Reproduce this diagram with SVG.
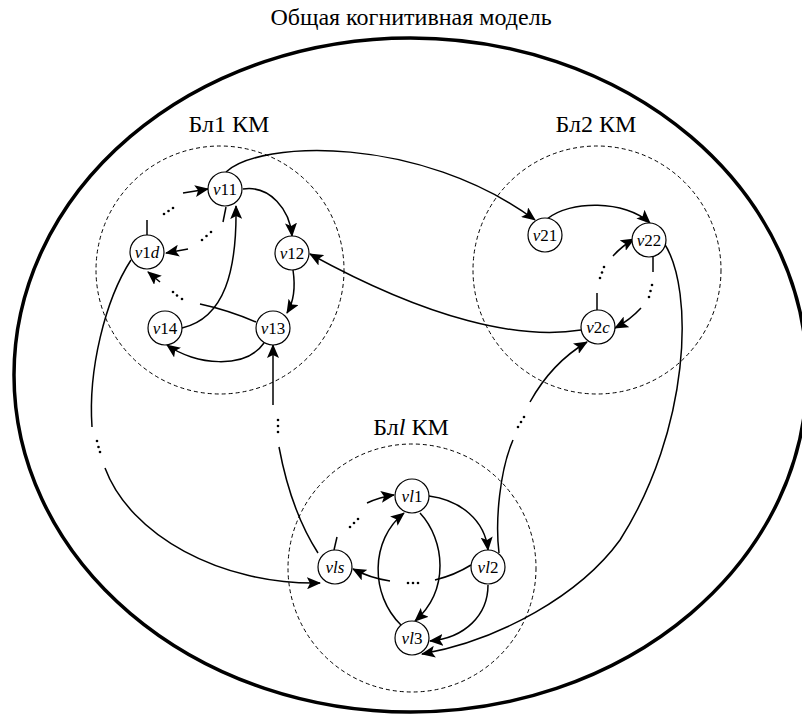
<svg xmlns="http://www.w3.org/2000/svg" width="802" height="715" viewBox="0 0 802 715">
<defs>
<marker id="ah" markerUnits="userSpaceOnUse" markerWidth="14" markerHeight="12" viewBox="0 0 14 12" refX="13" refY="6" orient="auto">
<path d="M0,0 L14,6 L0,12 L3,6 Z" fill="#000"/>
</marker>
</defs>
<style>
text{font-family:"Liberation Serif","Times New Roman",serif;fill:#000}
.t{font-size:24px}
.b{font-size:24px}
.n{font-size:17px}
.node circle{fill:#fff;stroke:#000;stroke-width:1.2}
.blk{fill:none;stroke:#000;stroke-width:1;stroke-dasharray:4,3}
.c path{fill:none;stroke:#000;stroke-width:1.5}
.a{marker-end:url(#ah)}
.d circle{fill:#000}
</style>
<rect width="802" height="715" fill="#fff"/>
<text class="t" x="411" y="25" text-anchor="middle" font-family="Liberation Serif, serif">Общая когнитивная модель</text>
<ellipse cx="410.5" cy="375" rx="396.5" ry="337" fill="none" stroke="#000" stroke-width="3.5"/>
<g id="blk1"><circle class="blk" cx="220" cy="270" r="124"/><text class="b" x="229" y="132" text-anchor="middle">Бл1 КМ</text></g>
<g id="blk2"><circle class="blk" cx="597" cy="270" r="124"/><text class="b" x="596" y="132" text-anchor="middle">Бл2 КМ</text></g>
<g id="blkl"><circle class="blk" cx="412" cy="568" r="124"/><text class="b" x="411" y="435" text-anchor="middle">Бл<tspan font-style="italic">l</tspan> КМ</text></g>
<g id="connectors" class="c">
<path class="a" d="M243,189 C270,185 290,210 292,236"/>
<path class="a" d="M293,270 C296,290 293,303 287,313"/>
<path class="a" d="M264,343 C245,370 195,365 167,345"/>
<path class="a" d="M182,328 C225,318 237,270 236,206"/>
<path d="M256,322 Q228,310 200,304"/>
<path class="a" d="M160,282 L148,272"/>
<path d="M226,207 L223,222"/>
<path class="a" d="M188,249 L166,253"/>
<path d="M147,235 L147,220"/>
<path class="a" d="M183,193 L208,189"/>
<path class="a" d="M547,219 C570,200 625,200 650,223"/>
<path d="M653,257 L653,272"/>
<path class="a" d="M641,308 Q630,320 615,328"/>
<path d="M597,310 L597,293"/>
<path class="a" d="M613,256 Q622,246 634,239"/>
<path class="a" d="M226,172 C260,140 420,135 535,220"/>
<path class="a" d="M581,330 C520,340 430,320 310,254"/>
<path class="a" d="M664,243 C695,290 690,430 620,540 C580,595 500,640 422,654"/>
<path d="M499,553 C495,520 500,470 513,440"/>
<path class="a" d="M530,402 C545,375 565,355 587,342"/>
<path class="a" d="M273,405 L273,345"/>
<path d="M318,553 C300,525 287,490 279,447"/>
<path d="M131,260 C105,300 88,370 92,427"/>
<path class="a" d="M105,468 C130,535 220,585 320,583"/>
<path class="a" d="M429,496 C460,500 485,520 488,550"/>
<path class="a" d="M488,585 C488,615 465,638 430,641"/>
<path class="a" d="M420,513 C445,540 450,590 415,621"/>
<path class="a" d="M401,625 C370,595 370,540 404,513"/>
<path d="M471,565 Q455,575 435,580"/>
<path class="a" d="M390,581 Q370,578 353,569"/>
<path d="M334,550 L337,537"/>
<path class="a" d="M367,503 Q380,497 394,495"/>
</g>
<g id="dots" class="d">
<circle cx="173" cy="292" r="1.3"/><circle cx="177" cy="295.5" r="1.3"/><circle cx="182" cy="299" r="1.3"/>
<circle cx="202" cy="240" r="1.3"/><circle cx="206.5" cy="236" r="1.3"/><circle cx="211" cy="232" r="1.3"/>
<circle cx="164" cy="214" r="1.3"/><circle cx="168.5" cy="211" r="1.3"/><circle cx="173" cy="208" r="1.3"/>
<circle cx="652" cy="285" r="1.3"/><circle cx="650.5" cy="291" r="1.3"/><circle cx="649" cy="297" r="1.3"/>
<circle cx="600" cy="278" r="1.3"/><circle cx="602" cy="272.5" r="1.3"/><circle cx="604" cy="267" r="1.3"/>
<circle cx="518" cy="427" r="1.3"/><circle cx="521" cy="422" r="1.3"/><circle cx="524" cy="417" r="1.3"/>
<circle cx="278" cy="420" r="1.3"/><circle cx="278" cy="426" r="1.3"/><circle cx="278" cy="432" r="1.3"/>
<circle cx="97" cy="441" r="1.3"/><circle cx="98.5" cy="447" r="1.3"/><circle cx="100" cy="452" r="1.3"/>
<circle cx="408" cy="583" r="1.3"/><circle cx="413" cy="583" r="1.3"/><circle cx="418" cy="583" r="1.3"/>
<circle cx="350" cy="527" r="1.3"/><circle cx="354" cy="523" r="1.3"/><circle cx="358" cy="519" r="1.3"/>
</g>
<g id="v11" class="node"><circle cx="225" cy="189" r="17"/><text class="n" x="225" y="195" text-anchor="middle"><tspan font-style="italic">v</tspan>11</text></g>
<g id="v12" class="node"><circle cx="292" cy="253" r="17"/><text class="n" x="292" y="259" text-anchor="middle"><tspan font-style="italic">v</tspan>12</text></g>
<g id="v1d" class="node"><circle cx="147" cy="252" r="17"/><text class="n" x="147" y="258" text-anchor="middle"><tspan font-style="italic">v</tspan>1<tspan font-style="italic">d</tspan></text></g>
<g id="v14" class="node"><circle cx="165" cy="328" r="17"/><text class="n" x="165" y="334" text-anchor="middle"><tspan font-style="italic">v</tspan>14</text></g>
<g id="v13" class="node"><circle cx="273" cy="328" r="17"/><text class="n" x="273" y="334" text-anchor="middle"><tspan font-style="italic">v</tspan>13</text></g>
<g id="v21" class="node"><circle cx="545" cy="235" r="17"/><text class="n" x="545" y="241" text-anchor="middle"><tspan font-style="italic">v</tspan>21</text></g>
<g id="v22" class="node"><circle cx="649" cy="240" r="17"/><text class="n" x="649" y="246" text-anchor="middle"><tspan font-style="italic">v</tspan>22</text></g>
<g id="v2c" class="node"><circle cx="598" cy="327" r="17"/><text class="n" x="598" y="333" text-anchor="middle"><tspan font-style="italic">v</tspan>2<tspan font-style="italic">c</tspan></text></g>
<g id="vl1" class="node"><circle cx="412" cy="496" r="17"/><text class="n" x="412" y="502" text-anchor="middle"><tspan font-style="italic">vl</tspan>1</text></g>
<g id="vl2" class="node"><circle cx="488" cy="567" r="17"/><text class="n" x="488" y="573" text-anchor="middle"><tspan font-style="italic">vl</tspan>2</text></g>
<g id="vls" class="node"><circle cx="335" cy="567" r="17"/><text class="n" x="335" y="573" text-anchor="middle" font-style="italic">vls</text></g>
<g id="vl3" class="node"><circle cx="412" cy="638" r="17"/><text class="n" x="412" y="644" text-anchor="middle"><tspan font-style="italic">vl</tspan>3</text></g>
</svg>
